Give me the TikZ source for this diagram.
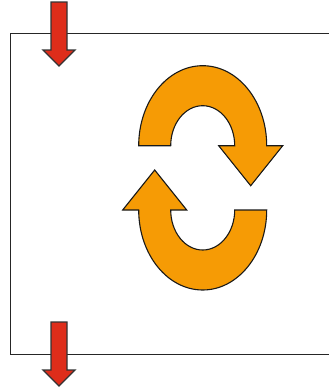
\documentclass[tikz,border=0pt]{standalone}
\definecolor{arcorange}{HTML}{F69B05}
\definecolor{flowred}{HTML}{DE2D1A}
\tikzset{
  frameline/.style={draw=black!85,line width=1.25pt},
  bigarrow/.style={draw=black!90,fill=arcorange,line width=1.1pt,line join=miter},
  redarrow/.style={draw=black!80,fill=flowred,line width=1.4pt,line join=miter}
}
\begin{document}
\begin{tikzpicture}[x=1pt,y=-1pt]
\useasboundingbox (0,0) rectangle (329,388);
\draw[frameline] (329,33.5) -- (10.5,33.5) -- (10.5,354.5) -- (329,354.5);
% top red arrow
\draw[redarrow] (51,2) -- (67,2) -- (67,50) -- (75,50) -- (59,66) -- (43,50) -- (51,50) -- cycle;
% bottom red arrow
\draw[redarrow] (51,322) -- (67,322) -- (67,370) -- (75,370) -- (59,386) -- (43,370) -- (51,370) -- cycle;
% upper curved arrow
\draw[bigarrow] (138.7,145.7) arc[start angle=180,end angle=360,x radius=64,y radius=80]
  -- (282.7,145.7) -- (250.7,185.7) -- (218.7,145.7) -- (234.7,145.7)
  arc[start angle=360,end angle=180,x radius=32,y radius=40] -- cycle;
% lower curved arrow
\draw[bigarrow] (266.7,210) arc[start angle=0,end angle=-180,x radius=64,y radius=-80]
  -- (122.7,210) -- (154.7,170) -- (186.7,210) -- (170.7,210)
  arc[start angle=-180,end angle=0,x radius=32,y radius=-40] -- cycle;
\end{tikzpicture}
\end{document}
